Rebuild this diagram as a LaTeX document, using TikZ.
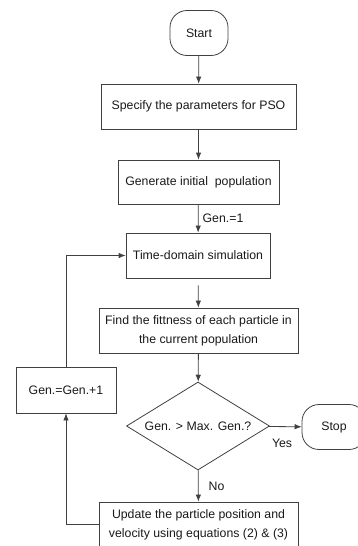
\documentclass[tikz,border=0pt]{standalone}
\usepackage{fontspec}
\setmainfont{Liberation Sans}
\usetikzlibrary{shapes.geometric,arrows.meta}

\tikzset{
  box/.style={draw=black!75, rectangle, align=center, inner sep=0pt},
  term/.style={box, rounded corners=17pt},
  decision/.style={draw=black!75, diamond, aspect=1.63, inner sep=0pt},
  flow/.style={draw=black!75, -{Latex[length=7pt,width=5.5pt]}},
  tag/.style={inner sep=0pt}
}

\begin{document}
\begin{tikzpicture}[line width=0.8pt, font=\fontsize{12.3}{19}\selectfont, text=black!90]
  \useasboundingbox (0pt,0pt) rectangle (358pt,-546pt);
  \node[term, minimum width=58pt, minimum height=45pt] (start) at (199pt,-33pt) {Start};
  \node[box, minimum width=195pt, minimum height=45pt] (spec) at (198.5pt,-106.5pt) {Specify the parameters for PSO};
  \node[box, minimum width=161pt, minimum height=44pt] (gen) at (198.5pt,-182pt) {Generate initial\ \ population};
  \node[box, minimum width=144pt, minimum height=45pt] (time) at (198pt,-255.5pt) {Time-domain simulation};
  \node[box, minimum width=199pt, minimum height=45pt] (fit) at (198.5pt,-330.5pt) {Find the fittness of each particle in\\the current population};
  \node[decision, minimum width=143pt, minimum height=88pt] (check) at (198pt,-426pt) {Gen. > Max. Gen.?};
  \node[term, minimum width=64pt, minimum height=45pt] (stop) at (334pt,-427pt) {Stop};
  \node[box, minimum width=199pt, minimum height=45pt] (upd) at (198.5pt,-524.5pt) {Update the particle position and\\velocity using equations (2) \& (3)};
  \node[box, minimum width=100pt, minimum height=46pt] (inc) at (66pt,-390pt) {Gen.=Gen.+1};

  \draw[flow] (start) -- (spec);
  \draw[flow] (spec) -- (gen);
  \draw[flow] (gen) -- node[tag, right=4pt, pos=0.5] (one) {Gen.=1} (time);
  \draw[flow, shorten <=7pt] (time) -- (fit);
  \draw[flow] (fit) -- (check);
  \draw[flow] (check) -- node[tag, below=12pt, pos=0.4] (yes) {Yes} (stop);
  \draw[flow] (check) -- node[tag, right=10pt, pos=0.5] (no) {No} (upd);
  \draw[flow] (upd.west) -| (inc.south);
  \draw[flow] (inc.north) |- (time.west);
\end{tikzpicture}
\end{document}
